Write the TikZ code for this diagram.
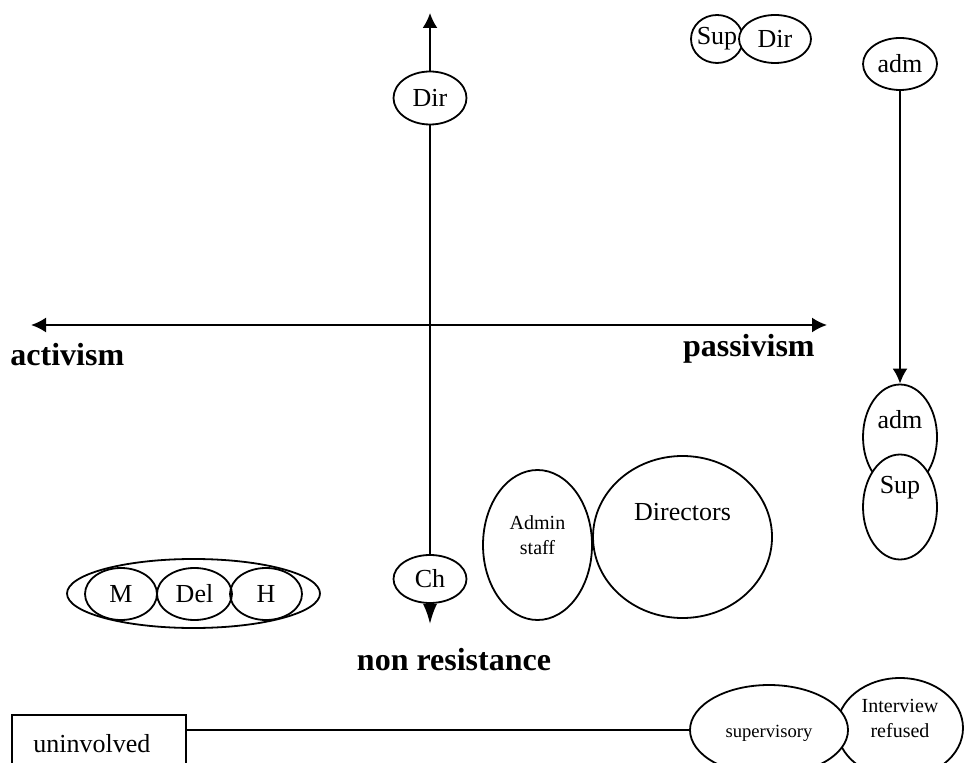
\documentclass[tikz,border=0pt]{standalone}
\usepackage{fontspec}
\setmainfont{Liberation Serif}
\usepackage{tikz}
\usetikzlibrary{shapes.geometric}
\usetikzlibrary{arrows.meta}

\begin{document}
\begin{tikzpicture}[x=0.5pt,y=-0.5pt,
    oval/.style={draw, ellipse, line width=0.9pt, fill=white, inner sep=0pt},
    txt/.style={font=\fontsize{13}{15}\selectfont, inner sep=0pt},
    small/.style={font=\fontsize{10}{12.5}\selectfont, align=center, inner sep=0pt},
    axis/.style={line width=1pt, -{Latex[length=7.5pt,width=7.5pt]}},
    heading/.style={font=\bfseries\fontsize{16}{18}\selectfont, inner sep=0pt}]

    \useasboundingbox (0,0) rectangle (967,763);
    \clip (0,0) rectangle (967,763);

    % Axis ends
    \coordinate (Centre) at (430,325);
    \coordinate (Top) at (430,13);
    \coordinate (Bottom) at (430,624);
    \coordinate (Left) at (31,325);
    \coordinate (Right) at (827,325);

    % Draw the axes
    \draw[axis] (Centre) -- (Left);
    \draw[axis] (Centre) -- (Right);
    \draw[axis] (Centre) -- (Top);
    \draw[line width=1pt, -{Latex[length=10pt,width=7pt]}] (Centre) -- (Bottom);

    % Axis labels
    \node[heading, anchor=base west] (Act) at (10,366) {activism};
    \node[heading, anchor=base east] (Pas) at (815,357) {passivism};
    \node[heading, anchor=base] (NonRes) at (454,670) {non resistance};

    % Ovals on the vertical axis
    \node[oval, minimum width=36.5pt, minimum height=26.5pt] (DirAx) at (430,98) {};
    \node[txt] (lDirAx) at (DirAx) {Dir};
    \node[oval, minimum width=36.5pt, minimum height=24pt] (Ch) at (430,579) {};
    \node[txt] (lCh) at (Ch) {Ch};

    % Top right pair
    \node[oval, minimum width=26pt, minimum height=24pt] (SupTop) at (717,39) {};
    \node[txt] (lSupTop) at (SupTop) {Sup};
    \node[oval, minimum width=36pt, minimum height=24pt] (DirTop) at (775,39) {};
    \node[txt] (lDirTop) at (DirTop) {Dir};

    % Right column
    \node[oval, minimum width=37pt, minimum height=26pt] (AdmTop) at (900,64) {};
    \node[txt] (lAdmTop) at (AdmTop) {adm};
    \node[oval, minimum width=37pt, minimum height=52.5pt] (AdmLow) at (900,437) {};
    \node[txt] (lAdmLow) at (900,420) {adm};
    \node[oval, minimum width=37pt, minimum height=52.5pt] (SupLow) at (900,507) {};
    \node[txt] (lSupLow) at (900,488) {Sup};
    \draw[axis] (AdmTop) -- (AdmLow);

    % Admin staff and directors
    \node[oval, minimum width=54.5pt, minimum height=75pt] (Admin) at (537.5,545) {};
    \node[small] (lAdmin) at (537.5,535) {Admin\\staff};
    \node[oval, minimum width=89.5pt, minimum height=81pt] (Dirs) at (682.5,537) {};
    \node[txt] (lDirs) at (682.5,512) {Directors};

    % M, Del and H group
    \node[oval, minimum width=126.5pt, minimum height=34.5pt] (Group) at (193.5,593.5) {};
    \node[oval, fill=none, minimum width=36pt, minimum height=26pt] (M) at (121,594) {};
    \node[txt] (lM) at (M) {M};
    \node[oval, fill=none, minimum width=37.5pt, minimum height=26pt] (Del) at (194.5,594) {};
    \node[txt] (lDel) at (Del) {Del};
    \node[oval, fill=none, minimum width=36pt, minimum height=26pt] (H) at (266,594) {};
    \node[txt] (lH) at (H) {H};

    % Bottom row
    \node[draw, line width=0.8pt, minimum width=87pt, minimum height=30pt] (Uninv) at (99,745) {};
    \node[txt, anchor=base west] (lUninv) at (33,752) {uninvolved};
    \node[oval, minimum width=63pt, minimum height=50pt] (Refused) at (900,728) {};
    \node[small] (lRefused) at (900,718) {Interview\\refused};
    \node[oval, minimum width=79pt, minimum height=45pt] (Super) at (769,730) {};
    \node[inner sep=0pt, font=\fontsize{9.3}{11}\selectfont] (lSuper) at (769,733) {supervisory};
    \draw[line width=0.8pt] (Uninv.east |- Super.west) -- (Super.west);

\end{tikzpicture}
\end{document}
